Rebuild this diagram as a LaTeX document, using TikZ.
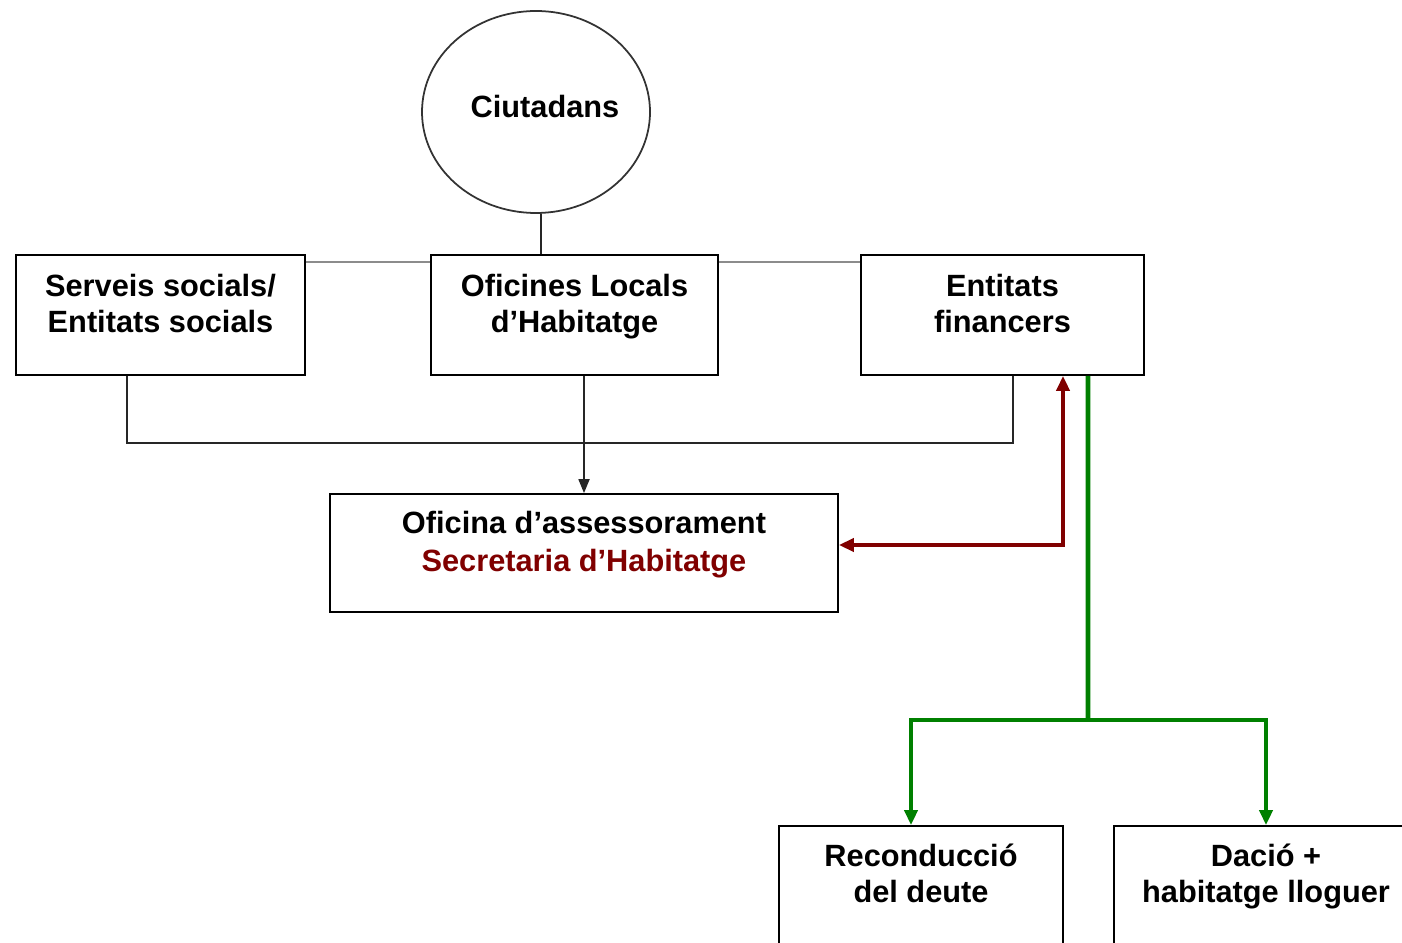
\documentclass[tikz,border=0pt]{standalone}
\usepackage{fontspec}
\setmainfont{Liberation Sans}
\usetikzlibrary{positioning,shapes.geometric,arrows.meta}
\definecolor{darkred}{RGB}{128,0,0}
\definecolor{darkgreen}{RGB}{0,128,0}
\begin{document}
\begin{tikzpicture}
        [
            box/.style={rectangle, draw=black, line width=1pt},
            txt/.style={align=center, inner sep=0pt, font=\fontsize{17.5}{20.5}\selectfont\bfseries},
            link/.style={line width=1pt, draw=black!85},
            redarrow/.style={line width=2.6pt, draw=darkred, {Triangle[length=0.3cm,width=0.26cm]}-{Triangle[length=0.3cm,width=0.26cm]}},
            greenarrow/.style={line width=2.6pt, draw=darkgreen, -{Triangle[length=0.3cm,width=0.26cm]}}
        ]
        \useasboundingbox (0,0) rectangle (28.04,18.84);
        \clip (0,0) rectangle (28.04,18.84);
        % Ciutadans
        \node[ellipse, draw=black!80, line width=1pt, minimum width=4.56cm, minimum height=4.04cm] (ciutadans) at (10.72,16.6) {};
        \node[txt] (ciutadans-t) at (10.9,16.7) {Ciutadans};
        % first row
        \node[box, minimum width=5.78cm, minimum height=2.4cm] (serveis) at (3.21,12.54) {};
        \node[txt, below=0.4cm of serveis.north] (serveis-t) {Serveis socials/\\Entitats socials};
        \node[box, minimum width=5.74cm, minimum height=2.4cm] (locals) at (11.49,12.54) {};
        \node[txt, below=0.4cm of locals.north] (locals-t) {Oficines Locals\\d’Habitatge};
        \node[box, minimum width=5.66cm, minimum height=2.4cm] (entitats) at (20.05,12.54) {};
        \node[txt, below=0.4cm of entitats.north] (entitats-t) {Entitats\\financers};
        \draw[link] ([xshift=0.1cm]ciutadans.south) -- ([xshift=0.1cm]ciutadans.south |- locals.north);
        \draw[link, draw=black!45] ([yshift=-0.16cm]serveis.north east) -- ([yshift=-0.16cm]locals.north west);
        \draw[link, draw=black!45] ([yshift=-0.16cm]locals.north east) -- ([yshift=-0.16cm]entitats.north west);
        % Oficina d'assessorament
        \node[box, minimum width=10.16cm, minimum height=2.36cm] (assess) at (11.68,7.78) {};
        \node[txt, below=0.36cm of assess.north] (assess-t) {Oficina d’assessorament\\[1pt]\textcolor{darkred}{Secretaria d’Habitatge}};
        \coordinate (joinl) at (2.54,9.98);
        \coordinate (joinr) at (20.26,9.98);
        \draw[link] ([xshift=-0.67cm]serveis.south) -- (joinl) -- (joinr) -- ([xshift=0.21cm]entitats.south);
        \draw[link, -{Triangle[length=0.28cm,width=0.22cm]}] (assess.north |- locals.south) -- (assess.north);
        \draw[redarrow] ([yshift=0.16cm]assess.east) -| ([xshift=1.21cm]entitats.south);
        % resultats
        \node[box, minimum width=5.68cm, minimum height=2.6cm] (recond) at (18.42,1.02) {};
        \node[txt, below=0.36cm of recond.north] (recond-t) {Reconducció\\del deute};
        \node[box, minimum width=6.08cm, minimum height=2.6cm] (dacio) at (25.32,1.02) {};
        \node[txt, below=0.36cm of dacio.north] (dacio-t) {Dació +\\habitatge lloguer};
        \coordinate (split) at (21.76,4.44);
        \draw[line width=2.6pt, darkgreen] ([xshift=1.71cm]entitats.south) -- (split);
        \draw[greenarrow] (split) -| ([xshift=-0.2cm]recond.north);
        \draw[greenarrow] (split) -| (dacio.north);
\end{tikzpicture}
\end{document}
